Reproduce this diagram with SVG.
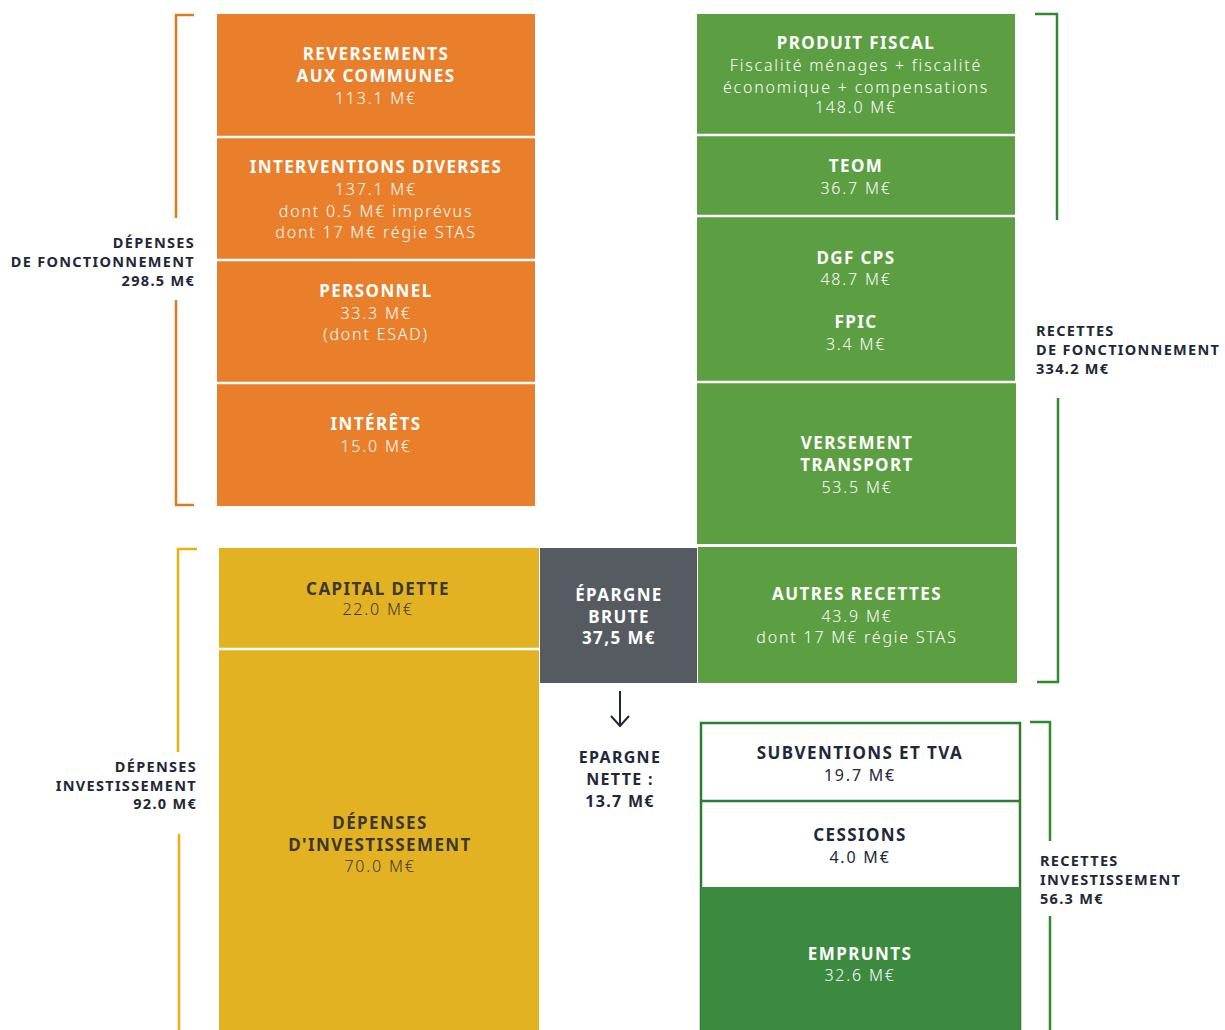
<svg xmlns="http://www.w3.org/2000/svg" width="1225" height="1030" viewBox="0 0 1225 1030">
<style>
text{font-family:"Noto Sans","Open Sans","Liberation Sans",sans-serif;text-anchor:middle}
.t{font-weight:700;font-size:17px;fill:#fff;letter-spacing:1.4px}
.v{font-weight:300;font-size:16px;fill:#fff;letter-spacing:1.8px}
.td{font-weight:700;font-size:17px;fill:#3b3832;letter-spacing:1.4px}
.vd{font-weight:300;font-size:16px;fill:#3b3832;letter-spacing:1.8px}
.side{font-weight:700;font-size:14.5px;fill:#1e2838;letter-spacing:1.3px}
.r{text-anchor:end}
.l{text-anchor:start}
.sep{stroke:#fff;stroke-width:2.5}
.bo{fill:none;stroke:#e07a1f;stroke-width:2.5}
.by{fill:none;stroke:#e8b010;stroke-width:2.5}
.bg{fill:none;stroke:#2f8a2f;stroke-width:2.5}
.arrow{fill:none;stroke:#1e2838;stroke-width:2}
</style>
<rect width="1225" height="1030" fill="#fff"/>

<g id="brackets">
<path class="bo" d="M194,15 H176 V218 M176,300 V505 H194"/>
<path class="by" d="M197,549 H178 V752 M179,834 V1030"/>
<path class="bg" d="M1035,14 H1057 V220 M1058,398 V682 H1037"/>
<path class="bg" d="M1030,722 H1050 V841 M1050,916 V1030"/>
</g>

<g id="connectors">
<path class="arrow" d="M620,691 V726 M611,716 L620,726 L629,716"/>
</g>

<g id="reversements">
<rect x="217" y="14" width="318" height="123" fill="#e97e2b"/>
<text class="t" x="376" y="60">REVERSEMENTS</text>
<text class="t" x="376" y="82">AUX COMMUNES</text>
<text class="v" x="376" y="104">113.1 M€</text>
</g>
<g id="interventions">
<rect x="217" y="137" width="318" height="123" fill="#e97e2b"/>
<text class="t" x="376" y="173">INTERVENTIONS DIVERSES</text>
<text class="v" x="376" y="195">137.1 M€</text>
<text class="v" x="376" y="217">dont 0.5 M€ imprévus</text>
<text class="v" x="376" y="238">dont 17 M€ régie STAS</text>
</g>
<g id="personnel">
<rect x="217" y="260" width="318" height="123" fill="#e97e2b"/>
<text class="t" x="376" y="297">PERSONNEL</text>
<text class="v" x="376" y="319">33.3 M€</text>
<text class="v" x="376" y="340">(dont ESAD)</text>
</g>
<g id="interets">
<rect x="217" y="383" width="318" height="123" fill="#e97e2b"/>
<text class="t" x="376" y="430">INTÉRÊTS</text>
<text class="v" x="376" y="452">15.0 M€</text>
</g>
<g id="sep-orange">
<line class="sep" x1="217" y1="137" x2="535" y2="137"/>
<line class="sep" x1="217" y1="260" x2="535" y2="260"/>
<line class="sep" x1="217" y1="383" x2="535" y2="383"/>
</g>

<g id="produit-fiscal">
<rect x="697" y="14" width="318" height="121" fill="#5c9e42"/>
<text class="t" x="856" y="49">PRODUIT FISCAL</text>
<text class="v" x="856" y="71">Fiscalité ménages + fiscalité</text>
<text class="v" x="856" y="93">économique + compensations</text>
<text class="v" x="856" y="113">148.0 M€</text>
</g>
<g id="teom">
<rect x="697" y="135" width="318" height="81" fill="#5c9e42"/>
<text class="t" x="856" y="172">TEOM</text>
<text class="v" x="856" y="194">36.7 M€</text>
</g>
<g id="dgf">
<rect x="697" y="216" width="318" height="166" fill="#5c9e42"/>
<text class="t" x="856" y="264">DGF CPS</text>
<text class="v" x="856" y="285">48.7 M€</text>
<text class="t" x="856" y="328">FPIC</text>
<text class="v" x="856" y="350">3.4 M€</text>
</g>
<g id="versement">
<rect x="697" y="382" width="319" height="162" fill="#5c9e42"/>
<text class="t" x="857" y="449">VERSEMENT</text>
<text class="t" x="857" y="471">TRANSPORT</text>
<text class="v" x="857" y="493">53.5 M€</text>
</g>
<g id="sep-green">
<line class="sep" x1="697" y1="135" x2="1016" y2="135"/>
<line class="sep" x1="697" y1="216" x2="1016" y2="216"/>
<line class="sep" x1="697" y1="382" x2="1016" y2="382"/>
</g>
<g id="autres">
<rect x="698" y="547" width="319" height="136" fill="#5c9e42"/>
<text class="t" x="857" y="600">AUTRES RECETTES</text>
<text class="v" x="857" y="622">43.9 M€</text>
<text class="v" x="857" y="643">dont 17 M€ régie STAS</text>
</g>

<g id="capital">
<rect x="219" y="548" width="320" height="101" fill="#e2b222"/>
<text class="td" x="378" y="595">CAPITAL DETTE</text>
<text class="vd" x="378" y="615">22.0 M€</text>
</g>
<g id="depinv">
<rect x="219" y="649" width="320" height="381" fill="#e2b222"/>
<line class="sep" x1="219" y1="649" x2="539" y2="649"/>
<text class="td" x="380" y="829">DÉPENSES</text>
<text class="td" x="380" y="851">D'INVESTISSEMENT</text>
<text class="vd" x="380" y="872">70.0 M€</text>
</g>

<g id="epargne-brute">
<rect x="540" y="548" width="157" height="135" fill="#565b61"/>
<text class="t" x="619" y="601">ÉPARGNE</text>
<text class="t" x="619" y="623">BRUTE</text>
<text class="t" x="619" y="644">37,5 M€</text>
</g>
<g id="epargne-nette">
<text class="side" x="620" y="763" style="font-size:16px;text-anchor:middle">EPARGNE</text>
<text class="side" x="620" y="785" style="font-size:16px;text-anchor:middle">NETTE :</text>
<text class="side" x="620" y="807" style="font-size:16px;text-anchor:middle">13.7 M€</text>
</g>

<g id="invest-recettes">
<rect x="701" y="723" width="319" height="307" fill="#fff" stroke="#2f7d32" stroke-width="2.5"/>
<rect x="701" y="887" width="319" height="143" fill="#3c8a3f"/>
<line x1="701" y1="801" x2="1020" y2="801" stroke="#2f7d32" stroke-width="2.5"/>
</g>
<g id="subventions">
<text class="td" x="860" y="759" style="fill:#1e2838">SUBVENTIONS ET TVA</text>
<text class="vd" x="860" y="781" style="fill:#1e2838;font-weight:400">19.7 M€</text>
</g>
<g id="cessions">
<text class="td" x="860" y="841" style="fill:#1e2838">CESSIONS</text>
<text class="vd" x="860" y="863" style="fill:#1e2838;font-weight:400">4.0 M€</text>
</g>
<g id="emprunts">
<text class="t" x="860" y="960">EMPRUNTS</text>
<text class="v" x="860" y="981">32.6 M€</text>
</g>

<g id="labels">
<text class="side r" x="195" y="248">DÉPENSES</text>
<text class="side r" x="195" y="267">DE FONCTIONNEMENT</text>
<text class="side r" x="195" y="286">298.5 M€</text>
<text class="side r" x="197" y="772">DÉPENSES</text>
<text class="side r" x="197" y="791">INVESTISSEMENT</text>
<text class="side r" x="197" y="809">92.0 M€</text>
<text class="side l" x="1036" y="336">RECETTES</text>
<text class="side l" x="1036" y="355">DE FONCTIONNEMENT</text>
<text class="side l" x="1036" y="374">334.2 M€</text>
<text class="side l" x="1040" y="866">RECETTES</text>
<text class="side l" x="1040" y="885">INVESTISSEMENT</text>
<text class="side l" x="1040" y="904">56.3 M€</text>
</g>
</svg>
